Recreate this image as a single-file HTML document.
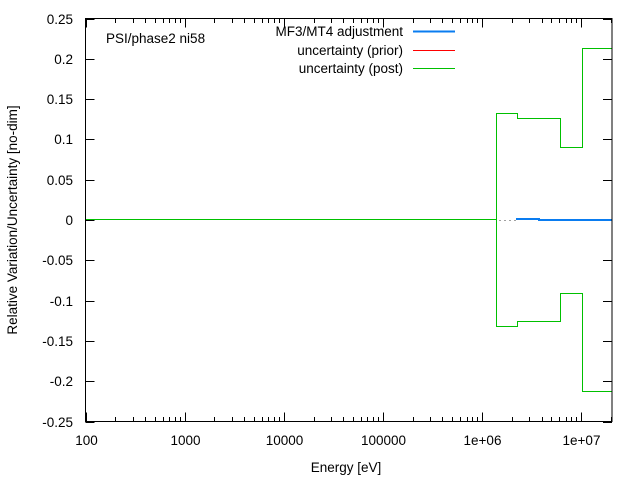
<!DOCTYPE html>
<html><head><meta charset="utf-8"><style>
html,body{margin:0;padding:0;background:#fff}
svg{display:block;font-family:"Liberation Sans",sans-serif;font-size:13.5px}
</style></head><body>
<svg id="s" width="640" height="480" viewBox="0 0 640 480" xmlns="http://www.w3.org/2000/svg">
<rect width="640" height="480" fill="#fff"/>
<g id="ticks" stroke="#000" stroke-width="1"></g>
<g id="labels" fill="#000"></g>
<text x="106" y="43" fill="#000">PSI/phase2 ni58</text>
<text x="403" y="36" text-anchor="end">MF3/MT4 adjustment</text>
<text x="403" y="55" text-anchor="end">uncertainty (prior)</text>
<text x="403" y="73" text-anchor="end">uncertainty (post)</text>
<line x1="413" y1="31.5" x2="455" y2="31.5" stroke="#0a7cf0" stroke-width="2"/>
<line x1="413" y1="50.5" x2="455" y2="50.5" stroke="#f00" stroke-width="1"/>
<line x1="413" y1="68.5" x2="455" y2="68.5" stroke="#00c000" stroke-width="1"/>
<line x1="499" y1="220.5" x2="516" y2="220.5" stroke="#a0a0a0" stroke-dasharray="2,3"/>
<polyline fill="none" stroke="#00c000" stroke-width="1" points="85,219.5 496.5,219.5 496.5,113.5 517.5,113.5 517.5,118.5 560.5,118.5 560.5,147.5 582.5,147.5 582.5,48.5 612,48.5"/>
<polyline fill="none" stroke="#00c000" stroke-width="1" points="496.5,219.5 496.5,326.5 517.5,326.5 517.5,321.5 560.5,321.5 560.5,293.5 582.5,293.5 582.5,391.5 612,391.5"/>
<polyline fill="none" stroke="#0a7cf0" stroke-width="2" points="516,219 539,219 539,220 612,220"/>
<rect x="85.5" y="18.5" width="526.5" height="403" fill="none" stroke="#000"/>
<text x="346" y="472" text-anchor="middle">Energy [eV]</text>
<text transform="translate(17,220) rotate(-90)" text-anchor="middle">Relative Variation/Uncertainty [no-dim]</text>
</svg>
<script>
var ns="http://www.w3.org/2000/svg",T=document.getElementById("ticks"),L=document.getElementById("labels");
function ln(a,b,c,d){var e=document.createElementNS(ns,"line");e.setAttribute("x1",a);e.setAttribute("y1",b);e.setAttribute("x2",c);e.setAttribute("y2",d);T.appendChild(e);}
function tx(x,y,s,anc){var e=document.createElementNS(ns,"text");e.setAttribute("x",x);e.setAttribute("y",y);e.setAttribute("text-anchor",anc);e.textContent=s;L.appendChild(e);}
function X(lg){return 85.5+99.1*(lg-2);}
var labs=["100","1000","10000","100000","1e+06","1e+07"];
for(var d=2;d<=7;d++){var x=Math.round(X(d))+0.5;ln(x,421.5,x,412.5);ln(x,18.5,x,27.5);tx(x,445,labs[d-2],"middle");
 for(var m=2;m<=9;m++){var xm=X(d+Math.log10(m));if(xm>612)break;xm=Math.round(xm)+0.5;ln(xm,421.5,xm,417);ln(xm,18.5,xm,23);}}
for(var i=0;i<=10;i++){var v=0.25-i*0.05;var y=Math.round(18.5+i*40.3)+0.5;ln(85.5,y,94.5,y);ln(612,y,603,y);
 var s=(Math.abs(v)<1e-9)?"0":(+v.toFixed(2)).toString();tx(73,y+4.5,s,"end");}
</script>
</body></html>
